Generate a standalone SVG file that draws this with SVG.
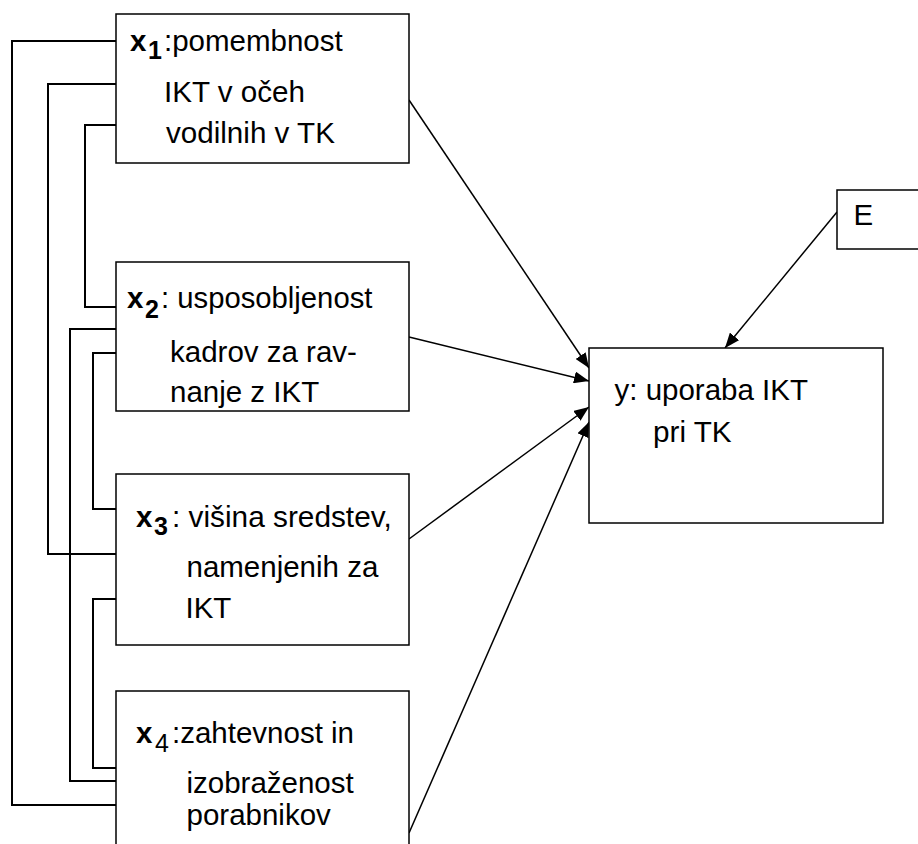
<svg xmlns="http://www.w3.org/2000/svg" width="918" height="844" viewBox="0 0 918 844">
<style>
.box{fill:#fff;stroke:#000;stroke-width:1.5}
.t{font-family:"Liberation Sans",Arial,sans-serif;font-size:29.5px;fill:#000}
.b{font-weight:bold}
.s{font-size:25px}
.con{fill:none;stroke:#000;stroke-width:2}
.arr{fill:none;stroke:#000;stroke-width:1.5;marker-end:url(#ah)}
</style>
<defs>
<marker id="ah" markerUnits="userSpaceOnUse" markerWidth="16" markerHeight="12" refX="15" refY="6" orient="auto">
<path d="M0,0 L15,6 L0,12 z" fill="#000"/>
</marker>
</defs>
<rect width="918" height="844" fill="#fff"/>
<g id="connectors">
<path class="con" d="M116,41 H12 V805 H116"/>
<path class="con" d="M116,84 H48 V554 H116"/>
<path class="con" d="M116,125 H85 V307 H116"/>
<path class="con" d="M116,329 H70 V781 H116"/>
<path class="con" d="M116,353 H93 V509 H116"/>
<path class="con" d="M116,599 H93 V768 H116"/>
<line class="arr" x1="409" y1="100" x2="589" y2="368"/>
<line class="arr" x1="409" y1="337" x2="589" y2="381"/>
<line class="arr" x1="409" y1="539" x2="589" y2="407"/>
<line class="arr" x1="409" y1="833" x2="589" y2="422"/>
<line class="arr" x1="837" y1="212" x2="725" y2="348"/>
</g>
<g id="x1">
<rect class="box" x="116" y="14" width="293" height="149"/>
<text class="t b" x="130" y="51">x</text>
<text class="t b s" x="148" y="58.5">1</text>
<text class="t" x="164" y="51" textLength="178.7" lengthAdjust="spacingAndGlyphs">:pomembnost</text>
<text class="t" x="164" y="102" textLength="141" lengthAdjust="spacingAndGlyphs">IKT v očeh</text>
<text class="t" x="166" y="143" textLength="168.9" lengthAdjust="spacingAndGlyphs">vodilnih v TK</text>
</g>
<g id="x2">
<rect class="box" x="116" y="262" width="293" height="149"/>
<text class="t b" x="127" y="308">x</text>
<text class="t b s" x="145" y="318">2</text>
<text class="t" x="161" y="308" textLength="211.4" lengthAdjust="spacingAndGlyphs">: usposobljenost</text>
<text class="t" x="170" y="361.5" textLength="186.9" lengthAdjust="spacingAndGlyphs">kadrov za rav-</text>
<text class="t" x="170" y="401.5" textLength="149.2" lengthAdjust="spacingAndGlyphs">nanje z IKT</text>
</g>
<g id="x3">
<rect class="box" x="116" y="474" width="293" height="171"/>
<text class="t b" x="136" y="526.5">x</text>
<text class="t b s" x="154" y="535">3</text>
<text class="t" x="172" y="526.5" textLength="219.7" lengthAdjust="spacingAndGlyphs">: višina sredstev,</text>
<text class="t" x="186.5" y="577" textLength="191.8" lengthAdjust="spacingAndGlyphs">namenjenih za</text>
<text class="t" x="185.5" y="618" textLength="45.9" lengthAdjust="spacingAndGlyphs">IKT</text>
</g>
<g id="x4">
<rect class="box" x="116" y="691" width="293" height="170"/>
<text class="t b" x="136" y="743">x</text>
<text class="t s" x="155" y="751.5">4</text>
<text class="t" x="172" y="743" textLength="182" lengthAdjust="spacingAndGlyphs">:zahtevnost in</text>
<text class="t" x="186.5" y="793" textLength="167.2" lengthAdjust="spacingAndGlyphs">izobraženost</text>
<text class="t" x="186.5" y="825" textLength="144.3" lengthAdjust="spacingAndGlyphs">porabnikov</text>
</g>
<g id="y">
<rect class="box" x="589" y="348" width="294" height="175"/>
<text class="t" x="614.5" y="400" textLength="193.5" lengthAdjust="spacingAndGlyphs">y: uporaba IKT</text>
<text class="t" x="653" y="442" textLength="78.7" lengthAdjust="spacingAndGlyphs">pri TK</text>
</g>
<g id="E">
<rect class="box" x="837" y="190" width="100" height="59"/>
<text class="t" x="853.5" y="225">E</text>
</g>
</svg>
